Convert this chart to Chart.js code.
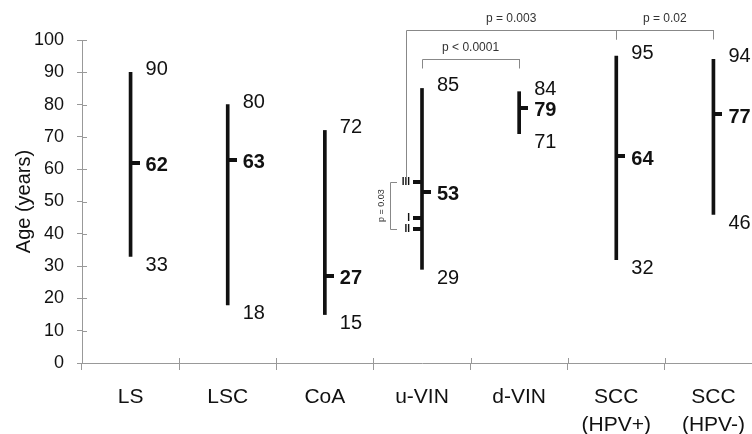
<!DOCTYPE html>
<html>
<head>
<meta charset="utf-8">
<title>Age by lesion type</title>
<script src="https://cdn.jsdelivr.net/npm/chart.js@4.4.0/dist/chart.umd.min.js"></script>
<style>
  html, body { margin: 0; padding: 0; background: #fff; overflow: hidden; }
  #wrap { width: 752px; height: 434px; overflow: hidden; }
</style>
</head>
<body>
<div id="wrap"><canvas id="ageChart" width="762" height="434"></canvas></div>
<script>
// Age range (min / median / max) per lesion group
const categories = ['LS', 'LSC', 'CoA', 'u-VIN', 'd-VIN', ['SCC', '(HPV+)'], ['SCC', '(HPV-)']];
const minAge = [33, 18, 15, 29, 71, 32, 46];
const maxAge = [90, 80, 72, 85, 84, 95, 94];
const medianAge = [62, 63, 27, 53, 79, 64, 77];
const yTicks = [0, 10, 20, 30, 40, 50, 60, 70, 80, 90, 100];

// u-VIN medians split by grade
const gradeGroup = 3;
const gradeLabels = ['III', 'I', 'II'];
const gradeMedian = [56, 45, 41.5];
const gradeCompLabel = 'p = 0.03';

// Pairwise comparisons between groups
const compFrom = [3, 3, 5];
const compTo = [4, 5, 6];
const compLabels = ['p < 0.0001', 'p = 0.003', 'p = 0.02'];

const FONT = "'Liberation Sans', Arial, sans-serif";
const INK = '#111';
const AXIS = '#999';
const BRACKET = '#888';

function px(v) {
    return Math.round(v) + 0.5;
}

function hLine(ctx, x1, x2, y) {
    ctx.beginPath();
    ctx.moveTo(x1, px(y));
    ctx.lineTo(x2, px(y));
    ctx.stroke();
}

function vLine(ctx, x, y1, y2) {
    ctx.beginPath();
    ctx.moveTo(px(x), y1);
    ctx.lineTo(px(x), y2);
    ctx.stroke();
}

// Median ticks, value labels, grade ticks and comparison brackets
const rangeMarks = {
    id: 'rangeMarks',
    afterDraw(chart) {
        const ctx = chart.ctx;
        const xs = chart.scales.x;
        const ys = chart.scales.y;
        const area = chart.chartArea;
        ctx.save();

        // axis ticks crossing into the plot
        ctx.strokeStyle = AXIS;
        ctx.lineWidth = 1;
        yTicks.forEach(v => hLine(ctx, area.left, area.left + 5, ys.getPixelForValue(v)));
        const step = xs.width / categories.length;
        for (let i = 0; i <= categories.length; i++) {
            vLine(ctx, xs.left + i * step, area.bottom - 5, area.bottom);
        }

        // medians and value labels
        ctx.fillStyle = INK;
        ctx.textBaseline = 'middle';
        ctx.textAlign = 'left';
        categories.forEach((c, i) => {
            const cx = xs.getPixelForValue(i);
            const yMed = ys.getPixelForValue(medianAge[i]);
            ctx.fillRect(Math.round(cx), Math.round(yMed) - 2, 9, 4);
            ctx.font = '20px ' + FONT;
            ctx.fillText(String(maxAge[i]), cx + 15, ys.getPixelForValue(maxAge[i]) - 2.5);
            ctx.fillText(String(minAge[i]), cx + 15, ys.getPixelForValue(minAge[i]) + 9);
            ctx.font = 'bold 20px ' + FONT;
            ctx.fillText(String(medianAge[i]), cx + 15, yMed + 3);
        });

        // grade medians on u-VIN
        const gx = xs.getPixelForValue(gradeGroup);
        ctx.textAlign = 'right';
        ctx.font = 'bold 10px ' + FONT;
        gradeLabels.forEach((g, k) => {
            const gy = ys.getPixelForValue(gradeMedian[k]);
            ctx.fillRect(Math.round(gx) - 9, Math.round(gy) - 2, 9, 4);
            ctx.fillText(g, gx - 12, gy + 0.5);
        });

        // grade III vs II bracket
        ctx.strokeStyle = BRACKET;
        ctx.lineWidth = 1;
        const gTop = ys.getPixelForValue(gradeMedian[0]);
        const gBot = ys.getPixelForValue(gradeMedian[2]);
        const bx = gx - 32;
        vLine(ctx, bx, px(gTop), px(gBot));
        hLine(ctx, px(bx), gx - 25, gTop);
        hLine(ctx, px(bx), gx - 25, gBot);
        ctx.save();
        ctx.translate(bx - 8, (gTop + gBot) / 2);
        ctx.rotate(-Math.PI / 2);
        ctx.textAlign = 'center';
        ctx.fillStyle = '#333';
        ctx.font = '9px ' + FONT;
        ctx.fillText(gradeCompLabel, 0, 0);
        ctx.restore();

        // group comparison brackets above the plot
        ctx.fillStyle = '#333';
        ctx.font = '12px ' + FONT;
        ctx.textAlign = 'center';
        compLabels.forEach((label, k) => {
            const near = compTo[k] - compFrom[k] === 1 && compFrom[k] === gradeGroup;
            const top = near ? area.top + 18.5 : area.top - 10.5;
            let x1 = xs.getPixelForValue(compFrom[k]);
            const x2 = xs.getPixelForValue(compTo[k]);
            let leg1 = top + 10;
            if (!near && compFrom[k] === gradeGroup) {
                x1 = gx - 16;
                leg1 = gTop - 4;
            }
            hLine(ctx, px(x1), px(x2) + 0.5, top);
            vLine(ctx, x1, px(top), leg1);
            vLine(ctx, x2, px(top), top + 10);
            ctx.fillText(label, (x1 + x2) / 2, top - 10.5);
        });

        ctx.restore();
    }
};

const ctx = document.getElementById('ageChart').getContext('2d');
new Chart(ctx, {
    type: 'bar',
    data: {
        labels: categories,
        datasets: [{
            label: 'Age range',
            data: minAge.map((v, i) => [v, maxAge[i]]),
            backgroundColor: INK,
            borderWidth: 0,
            barThickness: 3
        }]
    },
    options: {
        responsive: false,
        animation: false,
        devicePixelRatio: 1,
        layout: { padding: { top: 40, right: 0, bottom: 0, left: 0 } },
        plugins: {
            legend: { display: false },
            tooltip: { enabled: false }
        },
        scales: {
            x: {
                offset: true,
                afterFit: s => { s.height = 71; },
                grid: {
                    offset: true,
                    drawOnChartArea: false,
                    tickLength: 7,
                    color: AXIS
                },
                border: { color: AXIS },
                ticks: {
                    color: INK,
                    padding: 14,
                    font: { family: FONT, size: 21, lineHeight: 1.3 }
                }
            },
            y: {
                min: 0,
                max: 100,
                afterFit: s => { s.width = 82; },
                afterBuildTicks: s => { s.ticks = yTicks.map(v => ({ value: v })); },
                grid: {
                    drawOnChartArea: false,
                    tickLength: 5,
                    color: AXIS
                },
                border: { color: AXIS },
                ticks: {
                    color: INK,
                    padding: 13,
                    font: { family: FONT, size: 18 }
                },
                title: {
                    display: true,
                    text: 'Age (years)',
                    color: INK,
                    padding: { top: 12, bottom: 0 },
                    font: { family: FONT, size: 20 }
                }
            }
        }
    },
    plugins: [rangeMarks]
});
</script>
</body>
</html>
